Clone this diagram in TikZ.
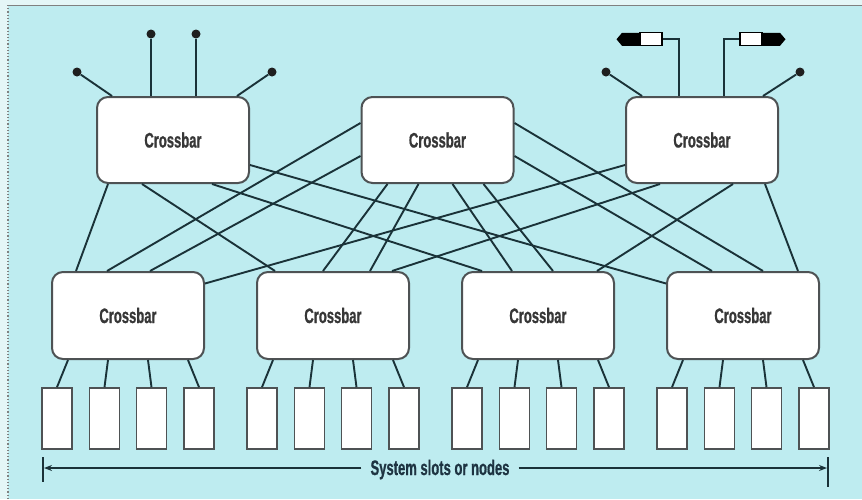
\documentclass[tikz,border=0pt]{standalone}
\usepackage{fontspec}
\newfontfamily\condfont[FakeStretch=0.62,FakeBold=0.8]{Liberation Sans Bold}
\usetikzlibrary{calc,arrows.meta}
\definecolor{bgcyan}{RGB}{190,236,240}
\definecolor{outerc}{RGB}{228,246,247}
\definecolor{linec}{RGB}{26,50,56}
\definecolor{boxc}{RGB}{78,82,84}
\definecolor{txtc}{RGB}{55,55,55}
\definecolor{lblc}{RGB}{30,52,66}
\begin{document}
\begin{tikzpicture}[x=1pt,y=-1pt,
  xbar/.style={draw=boxc, line width=2pt, fill=white, rounded corners=11pt,
    minimum width=152pt, minimum height=86pt, inner sep=0pt,
    font=\condfont\fontsize{21}{24}\selectfont, text=txtc},
  slot/.style={draw=boxc, line width=1.7pt, fill=white, minimum width=30pt,
    minimum height=61pt, inner sep=0pt},
  link/.style={draw=linec, line width=1.9pt},
  dot/.style={circle, fill=black!88, minimum size=9pt, inner sep=0pt},
  plugw/.style={draw=black, line width=1.2pt, fill=white, minimum width=22pt,
    minimum height=13pt, inner sep=0pt},
  lbl/.style={font=\condfont\fontsize{21}{24}\selectfont, text=lblc, inner sep=0pt},
]
\useasboundingbox (0,0) rectangle (862,499);
\fill[outerc] (0,0) rectangle (862,499);
\fill[bgcyan] (8,5) rectangle (862,499);
\draw[gray, line width=1pt] (8,5) -- (862,5);
\draw[gray, dotted, line width=1.2pt] (8,5) -- (8,499);

% top crossbars
\node[xbar] (TL) at (173,140) {Crossbar};
\node[xbar] (TC) at (437.5,140) {Crossbar};
\node[xbar] (TR) at (702,140) {Crossbar};

% bottom crossbars and slots
\foreach \n/\cx in {1/128,2/333,3/538,4/743} {
  \node[xbar, minimum height=87pt] (B\n) at (\cx,315.5) {Crossbar};
  \foreach \k/\off/\soff in {1/-71/-60,2/-23.5/-20,3/23.5/20,4/71/60} {
    \node[slot] (S\n\k) at (\cx+\off,418.5) {};
    \draw[link] ([xshift=\soff pt]B\n.south) -- (S\n\k.north);
  }
}

% links between layers
\draw[link] ([xshift=-65pt]TL.south) -- ([xshift=-52pt]B1.north);
\draw[link] ([xshift=-31pt]TL.south) -- ([xshift=-58pt]B2.north);
\draw[link] ([xshift=39pt]TL.south) -- ([xshift=-56pt]B3.north);
\draw[link] ([yshift=-25pt]TL.east) -- ([yshift=32pt]B4.west);
\draw[link] ([yshift=17pt]TC.west) -- ([xshift=-21pt]B1.north);
\draw[link] ([yshift=-16pt]TC.west) -- ([xshift=22pt]B1.north);
\draw[link] ([xshift=-50pt]TC.south) -- ([xshift=-10pt]B2.north);
\draw[link] ([xshift=-19pt]TC.south) -- ([xshift=37pt]B2.north);
\draw[link] ([xshift=15pt]TC.south) -- ([xshift=-26pt]B3.north);
\draw[link] ([xshift=46pt]TC.south) -- ([xshift=15pt]B3.north);
\draw[link] ([yshift=-16pt]TC.east) -- ([xshift=-31pt]B4.north);
\draw[link] ([yshift=17pt]TC.east) -- ([xshift=20pt]B4.north);
\draw[link] ([yshift=-25pt]TR.west) -- ([yshift=32pt]B1.east);
\draw[link] ([xshift=-42pt]TR.south) -- ([xshift=59pt]B2.north);
\draw[link] ([xshift=31pt]TR.south) -- ([xshift=59pt]B3.north);
\draw[link] ([xshift=63pt]TR.south) -- ([xshift=55pt]B4.north);

% antennas on the left crossbar
\node[dot] (a1) at (77,72) {};
\node[dot] (a2) at (151,34) {};
\node[dot] (a3) at (196,34) {};
\node[dot] (a4) at (272,72) {};
\draw[link] ([xshift=-61pt]TL.north) -- (a1);
\draw[link] ([xshift=-22pt]TL.north) -- (a2);
\draw[link] ([xshift=23pt]TL.north) -- (a3);
\draw[link] ([xshift=64pt]TL.north) -- (a4);

% antennas and plugs on the right crossbar
\node[dot] (a5) at (606,72) {};
\node[dot] (a6) at (800,72) {};
\draw[link] ([xshift=-60pt]TR.north) -- (a5);
\draw[link] ([xshift=61pt]TR.north) -- (a6);
\fill[black] (641,32.8) -- (622,32.8) -- (616.5,39.3) -- (622,45.8) -- (641,45.8) -- cycle;
\fill[black] (761,32.8) -- (780,32.8) -- (785.5,39.3) -- (780,45.8) -- (761,45.8) -- cycle;
\node[plugw] (p1) at (651,39.3) {};
\node[plugw] (p2) at (751,39.3) {};
\draw[link] (p1.east) -| ([xshift=-23pt]TR.north);
\draw[link] (p2.west) -| ([xshift=22pt]TR.north);

% bottom label with arrows
\node[lbl, anchor=base] (lab) at (440,475) {System slots or nodes};
\coordinate (la) at (43,468);
\coordinate (ra) at (828,468);
\draw[link, line width=1.4pt, -{Stealth[length=8pt,width=6pt]}] ($(lab.west |- la)+(-9,0)$) -- ([xshift=1pt]la);
\draw[link, line width=1.4pt, -{Stealth[length=8pt,width=6pt]}] ($(lab.east |- ra)+(9,0)$) -- ([xshift=-1pt]ra);
\draw[link, line width=1.5pt] (43,457) -- (43,482);
\draw[link, line width=1.5pt] (828,457) -- (828,487);
\end{tikzpicture}
\end{document}
